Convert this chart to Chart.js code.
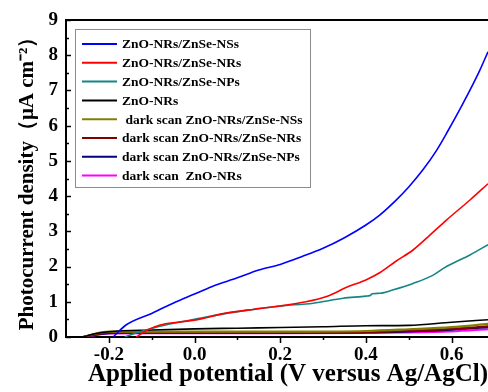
<!DOCTYPE html>
<html lang="en">
<head>
    <meta charset="UTF-8">
    <title>Photocurrent density</title>
    <script src="https://cdn.jsdelivr.net/npm/chart.js"></script>
    <style>
        body { margin: 0; background: #fff; }
        #wrap { width: 488px; height: 392px; }
    </style>
</head>
<body>
    <div id="wrap"><canvas id="pcChart"></canvas></div>

    <script>
        // series (x in V, y in uA cm-2)
        const nssX = [-0.19, -0.16, -0.1, -0.05, 0.0, 0.04, 0.1, 0.15, 0.2, 0.25, 0.3, 0.35, 0.4, 0.433, 0.47, 0.5, 0.534, 0.565, 0.59, 0.627, 0.665, 0.685];
        const nssY = [0, 0.34, 0.67, 0.96, 1.22, 1.43, 1.68, 1.9, 2.06, 2.28, 2.52, 2.82, 3.18, 3.47, 3.88, 4.26, 4.76, 5.3, 5.82, 6.64, 7.55, 8.1];

        const nrsX = [-0.136, -0.11, -0.08, -0.04, 0.0, 0.07, 0.14, 0.2, 0.26, 0.31, 0.355, 0.4, 0.433, 0.47, 0.51, 0.55, 0.588, 0.643, 0.685];
        const nrsY = [0, 0.2, 0.34, 0.42, 0.48, 0.67, 0.79, 0.88, 1.0, 1.16, 1.41, 1.62, 1.83, 2.15, 2.47, 2.9, 3.32, 3.89, 4.35];

        const npsX = [-0.163, -0.14, -0.113, -0.058, 0.0, 0.074, 0.136, 0.2, 0.277, 0.347, 0.4, 0.41, 0.415, 0.433, 0.464, 0.51, 0.556, 0.588, 0.643, 0.685];
        const npsY = [0, 0.1, 0.2, 0.37, 0.5, 0.67, 0.78, 0.88, 0.96, 1.1, 1.16, 1.18, 1.23, 1.24, 1.34, 1.52, 1.75, 2.0, 2.33, 2.62];

        const znoX = [-0.26, -0.23, -0.2, -0.1, 0.0, 0.1, 0.2, 0.3, 0.4, 0.5, 0.6, 0.685];
        const znoY = [0, 0.1, 0.15, 0.2, 0.23, 0.25, 0.27, 0.29, 0.32, 0.33, 0.42, 0.49];

        const darkX = [-0.26, -0.23, -0.2, -0.1, 0.0, 0.2, 0.4, 0.5, 0.6, 0.685];
        const darkNssY = [0, 0.1, 0.15, 0.15, 0.15, 0.15, 0.17, 0.22, 0.28, 0.37];
        const darkNrsY = [0, 0.08, 0.12, 0.13, 0.13, 0.13, 0.14, 0.17, 0.23, 0.3];
        const darkNpsY = [0, 0.07, 0.11, 0.12, 0.12, 0.12, 0.13, 0.16, 0.21, 0.28];
        const darkZnoY = [0, 0.06, 0.1, 0.11, 0.11, 0.11, 0.12, 0.13, 0.16, 0.22];

        const labels = ['ZnO-NRs/ZnSe-NSs', 'ZnO-NRs/ZnSe-NRs', 'ZnO-NRs/ZnSe-NPs', 'ZnO-NRs',
            ' dark scan ZnO-NRs/ZnSe-NSs', 'dark scan ZnO-NRs/ZnSe-NRs', 'dark scan ZnO-NRs/ZnSe-NPs', 'dark scan  ZnO-NRs'];
        const colors = ['#0000ff', '#ff0000', '#138585', '#000000', '#808000', '#800000', '#000080', '#ff00ff'];

        const xTicks = [-0.2, 0.0, 0.2, 0.4, 0.6];
        const yTicks = [0, 1, 2, 3, 4, 5, 6, 7, 8, 9];

        const pairs = (xs, ys) => xs.map((x, i) => ({ x: x, y: ys[i] }));
        const series = [
            pairs(nssX, nssY), pairs(nrsX, nrsY), pairs(npsX, npsY), pairs(znoX, znoY),
            pairs(darkX, darkNssY), pairs(darkX, darkNrsY), pairs(darkX, darkNpsY), pairs(darkX, darkZnoY)
        ];

        const serif = '"Liberation Serif", "Times New Roman", serif';

        // inner/outer tick marks, top frame line and the boxed legend
        const decor = {
            id: 'decor',
            afterDraw(chart) {
                const ctx = chart.ctx;
                const xs = chart.scales.x, ys = chart.scales.y;
                const a = chart.chartArea;
                ctx.save();
                ctx.strokeStyle = '#000';
                ctx.lineWidth = 1.5;
                // y ticks point inward
                for (let v = 0; v <= 9; v += 0.5) {
                    const p = Math.round(ys.getPixelForValue(v)) + 0.5;
                    const len = Number.isInteger(v) ? 5 : 3;
                    ctx.beginPath();
                    ctx.moveTo(a.left, p);
                    ctx.lineTo(a.left + len, p);
                    ctx.stroke();
                }
                // x ticks point outward
                for (let i = -2; i <= 6; i++) {
                    const v = i / 10;
                    const p = Math.round(xs.getPixelForValue(v)) + 0.5;
                    const len = i % 2 === 0 ? 6 : 3;
                    ctx.beginPath();
                    ctx.moveTo(p, a.bottom);
                    ctx.lineTo(p, a.bottom + len);
                    ctx.stroke();
                }
                // top frame
                ctx.lineWidth = 2;
                ctx.beginPath();
                ctx.moveTo(a.left, a.top);
                ctx.lineTo(a.right, a.top);
                ctx.stroke();

                // legend
                const bx = 75, by = 29, bw = 235, bh = 158, step = 18.8;
                ctx.fillStyle = '#fff';
                ctx.fillRect(bx, by, bw, bh);
                ctx.strokeStyle = '#8c8c8c';
                ctx.lineWidth = 1;
                ctx.strokeRect(bx + 0.5, by + 0.5, bw, bh);
                ctx.font = 'bold 13.5px ' + serif;
                ctx.textBaseline = 'middle';
                ctx.textAlign = 'left';
                chart.data.datasets.forEach((ds, i) => {
                    const cy = 44 + i * step;
                    ctx.strokeStyle = ds.borderColor;
                    ctx.lineWidth = 2;
                    ctx.beginPath();
                    ctx.moveTo(82, cy);
                    ctx.lineTo(117, cy);
                    ctx.stroke();
                    ctx.fillStyle = '#000';
                    ctx.fillText(ds.label, 122, cy + 1);
                });
                ctx.restore();
            }
        };

        const ctx = document.getElementById('pcChart').getContext('2d');
        new Chart(ctx, {
            type: 'line',
            data: {
                datasets: series.map((d, i) => ({
                    label: labels[i],
                    data: d,
                    borderColor: colors[i],
                    backgroundColor: colors[i],
                    borderWidth: i < 4 ? 1.6 : 2.2,
                    pointRadius: 0,
                    cubicInterpolationMode: 'monotone',
                    fill: false
                }))
            },
            options: {
                responsive: true,
                maintainAspectRatio: false,
                animation: false,
                layout: { padding: { top: 20, right: 0, left: 0, bottom: 0 } },
                plugins: {
                    legend: { display: false },
                    tooltip: { enabled: false }
                },
                scales: {
                    x: {
                        type: 'linear',
                        min: -0.3,
                        max: 0.685,
                        afterBuildTicks: s => { s.ticks = xTicks.map(v => ({ value: v })); },
                        afterFit: s => { s.height = 55; },
                        grid: { display: false, drawTicks: false },
                        border: { display: true, color: '#000', width: 2 },
                        ticks: {
                            padding: 7,
                            color: '#000',
                            font: { family: serif, size: 19, weight: 'bold' },
                            callback: v => v.toFixed(1)
                        },
                        title: {
                            display: true,
                            align: 'end',
                            text: 'Applied potential (V versus Ag/AgCl)',
                            color: '#000',
                            font: { family: serif, size: 25, weight: 'bold' },
                            padding: { top: 0, bottom: 2 }
                        }
                    },
                    y: {
                        min: 0,
                        max: 9,
                        afterBuildTicks: s => { s.ticks = yTicks.map(v => ({ value: v })); },
                        afterFit: s => { s.width = 66; },
                        grid: { display: false, drawTicks: false },
                        border: { display: true, color: '#000', width: 2 },
                        ticks: {
                            padding: 8,
                            color: '#000',
                            font: { family: serif, size: 19, weight: 'bold' }
                        },
                        title: {
                            display: true,
                            text: 'Photocurrent density（μA cm⁻²）',
                            color: '#000',
                            font: { family: serif, size: 21, weight: 'bold' },
                            padding: { top: 15, bottom: 0 }
                        }
                    }
                }
            },
            plugins: [decor]
        });
    </script>
</body>
</html>
